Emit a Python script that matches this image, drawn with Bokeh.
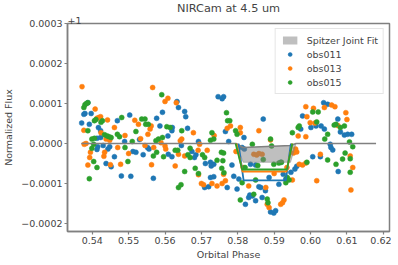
from bokeh.plotting import figure
from bokeh.models import Legend, LegendItem, FixedTicker, Title, Range1d
from bokeh.embed import file_html
from bokeh.resources import INLINE

# ---- data: (orbital phase, normalized flux - 1 in ppm) ----
obs011_points = [
    (0.5371, 51), (0.5377, 73), (0.5380, 75), (0.5388, 102), (0.5392, 48), (0.5397, 75),
    (0.5413, 13), (0.5413, -15), (0.5415, -8), (0.5417, 40), (0.5423, 32), (0.5423, 15),
    (0.5430, -5), (0.5438, -50), (0.5443, -14), (0.5448, -8), (0.5452, -58), (0.5461, -33),
    (0.5469, 57), (0.5480, -81), (0.5489, 5), (0.5503, 71), (0.5506, -82), (0.5512, -20),
    (0.5520, -22), (0.5530, 10), (0.5540, -28), (0.5552, -10), (0.5556, -14), (0.5568, -87),
    (0.5577, 63), (0.5586, 44), (0.5593, 78), (0.5608, 19), (0.5609, -27), (0.5619, 32),
    (0.5620, 40), (0.5619, -33), (0.5633, 105), (0.5637, 90), (0.5645, -5), (0.5654, 80),
    (0.5657, 67), (0.5662, 38), (0.5674, -20), (0.5681, -35), (0.5685, -28), (0.5692, 5),
    (0.5709, -110), (0.5711, -50), (0.5720, -108), (0.5725, -47), (0.5725, -85), (0.5727, -56),
    (0.5734, -52), (0.5734, -83), (0.5746, 117), (0.5757, 112), (0.5761, 117), (0.5766, 30),
    (0.5771, -110), (0.5775, 5), (0.5784, -54), (0.5789, -82), (0.5798, -114), (0.5803, -89),
    (0.5812, -10), (0.5817, 15), (0.5818, -14), (0.5821, -152), (0.5830, -135), (0.5833, -129),
    (0.5835, -52), (0.5840, -131), (0.5849, -54), (0.5849, -143), (0.5858, -108), (0.5863, -110),
    (0.5867, -135), (0.5870, 61), (0.5876, -118), (0.5886, -85), (0.5890, -171), (0.5899, -174),
    (0.5904, -168), (0.5913, -102), (0.5918, -47), (0.5925, -77), (0.5932, -89), (0.5946, -72),
    (0.5957, -64), (0.5962, -57), (0.5973, 36), (0.5978, 69), (0.6001, 40), (0.6006, -33),
    (0.6015, 44), (0.6027, -33), (0.6029, 44), (0.6036, 102), (0.6038, 36), (0.6047, 98),
    (0.6054, -2), (0.6056, -10), (0.6061, -16), (0.6075, 61), (0.6076, -70), (0.6082, 29),
    (0.6093, 21), (0.6102, 23), (0.6113, 23),
]
obs013_points = [
    (0.5372, 142), (0.5377, 33), (0.5378, -2), (0.5383, 0), (0.5388, -54), (0.5393, -35),
    (0.5395, -22), (0.5408, 86), (0.5413, 63), (0.5418, 65), (0.5423, 67), (0.5424, 27),
    (0.5432, -32), (0.5434, -22), (0.5438, 11), (0.5442, 59), (0.5448, 8), (0.5450, -53),
    (0.5461, 40), (0.5470, -10), (0.5478, -52), (0.5490, 20), (0.5500, -25), (0.5517, 58),
    (0.5527, 48), (0.5533, 12), (0.5545, -5), (0.5553, 23), (0.5559, 36), (0.5562, 44),
    (0.5563, -53), (0.5566, 140), (0.5569, -10), (0.5589, 2), (0.5600, 105), (0.5600, -6),
    (0.5602, -14), (0.5608, 113), (0.5628, -56), (0.5631, 102), (0.5637, -27), (0.5642, 7),
    (0.5646, 11), (0.5654, -31), (0.5678, 27), (0.5691, -17), (0.5692, -78), (0.5695, -2),
    (0.5700, -100), (0.5706, -103), (0.5716, -17), (0.5729, -100), (0.5735, 20), (0.5743, -106),
    (0.5757, -100), (0.5761, -77), (0.5766, -93), (0.5771, 38), (0.5780, 44), (0.5795, -20),
    (0.5807, 40), (0.5807, 27), (0.5815, -60), (0.5830, -106), (0.5844, -27), (0.5852, -29),
    (0.5858, 32), (0.5858, -25), (0.5867, -27), (0.5877, -110), (0.5881, -152), (0.5886, -160),
    (0.5890, 9), (0.5900, -75), (0.5918, -152), (0.5923, -148), (0.5927, -141), (0.5935, -60),
    (0.5950, -91), (0.5953, -24), (0.5959, -14), (0.5962, -21), (0.5966, 19), (0.5969, -52),
    (0.5978, -54), (0.5987, 92), (0.5987, 17), (0.5987, -49), (0.5990, 67), (0.5999, 52),
    (0.6008, 88), (0.6012, 51), (0.6017, -93), (0.6027, -27), (0.6038, 90), (0.6058, 96),
    (0.6067, 92), (0.6075, 45), (0.6097, 77), (0.6100, 60), (0.6109, -31), (0.6111, -116),
    (0.6116, -60),
]
obs015_points = [
    (0.5377, 90), (0.5380, 97), (0.5384, 100), (0.5388, 102), (0.5388, 32), (0.5392, -88),
    (0.5399, 11), (0.5399, -12), (0.5404, -2), (0.5404, -45), (0.5406, 57), (0.5406, 13),
    (0.5410, 60), (0.5413, -60), (0.5424, 53), (0.5428, 57), (0.5434, 22), (0.5441, 19),
    (0.5446, 17), (0.5452, 15), (0.5469, 23), (0.5475, 17), (0.5481, 65), (0.5490, -10),
    (0.5498, -45), (0.5510, 5), (0.5520, 30), (0.5536, 61), (0.5545, 61), (0.5547, 48),
    (0.5554, 48), (0.5568, -31), (0.5575, 7), (0.5577, -22), (0.5582, 11), (0.5591, 122),
    (0.5593, 15), (0.5596, -33), (0.5605, 42), (0.5614, 40), (0.5628, -17), (0.5635, -17),
    (0.5637, -110), (0.5644, -103), (0.5646, 32), (0.5654, -70), (0.5663, -28), (0.5669, -12),
    (0.5669, -35), (0.5683, -62), (0.5692, -75), (0.5703, -28), (0.5709, -35), (0.5725, 8),
    (0.5729, 27), (0.5734, 11), (0.5743, -42), (0.5755, -22), (0.5756, -62), (0.5759, -43),
    (0.5761, -24), (0.5762, -73), (0.5769, 77), (0.5772, 57), (0.5778, 57), (0.5794, 32),
    (0.5798, 23), (0.5807, -141), (0.5812, -98), (0.5820, -60), (0.5840, -2), (0.5844, -127),
    (0.5849, -91), (0.5855, -55), (0.5870, -40), (0.5881, -139), (0.5883, -148), (0.5890, 11),
    (0.5893, -6), (0.5899, -52), (0.5913, -49), (0.5920, -47), (0.5932, -98), (0.5936, -85),
    (0.5941, -91), (0.5950, 27), (0.5966, 40), (0.5969, 44), (0.5990, -47), (0.6006, 79),
    (0.6017, 54), (0.6021, 79), (0.6039, 11), (0.6047, 23), (0.6047, -41), (0.6065, 46),
    (0.6070, 48), (0.6070, -52), (0.6082, 40), (0.6088, -39), (0.6093, 44), (0.6095, -24),
    (0.6107, 4), (0.6109, -38), (0.6109, -72), (0.6116, -8),
]

series_names = ["obs011", "obs013", "obs015"]
series_points = [obs011_points, obs013_points, obs015_points]
series_colors = ["#1f77b4", "#ff7f0e", "#2ca02c"]

# Transit models per observation (phase, depth ppm)
model_phase = {
    "obs011": [0.5802, 0.5816, 0.5932, 0.5946],
    "obs013": [0.5796, 0.5813, 0.5934, 0.5950],
    "obs015": [0.5794, 0.5812, 0.5935, 0.5950],
}
model_depth = {
    "obs011": [0, -92, -92, 0],
    "obs013": [0, -70, -70, 0],
    "obs015": [0, -65, -65, 0],
}

# Spitzer joint fit band
spitzer_phase = [0.5370, 0.5795, 0.5815, 0.5945, 0.5960, 0.6180]
spitzer_upper = [0, 0, -10, -5, 0, 0]
spitzer_lower = [0, 0, -47, -47, 0, 0]

x_ticks = [0.54, 0.55, 0.56, 0.57, 0.58, 0.59, 0.60, 0.61, 0.62]
x_tick_labels = ["0.54", "0.55", "0.56", "0.57", "0.58", "0.59", "0.60", "0.61", "0.62"]
y_ticks_ppm = [-200, -100, 0, 100, 200, 300]
y_tick_labels = ["\u22120.0002", "\u22120.0001", "0.0000", "0.0001", "0.0002", "0.0003"]

PPM = 1e-6
FONT = "DejaVu Sans"
FRAME_W, FRAME_H = 322, 208

p = figure(frame_width=FRAME_W, frame_height=FRAME_H, output_backend="svg", toolbar_location=None,
           x_range=Range1d(0.5332, 0.6217), y_range=Range1d(-0.00022, 0.0003),
           min_border_left=64, min_border_right=2, min_border_top=10, min_border_bottom=26,
           title=None)
offset_title = Title(text="+1", align="left", text_font=FONT, text_font_size="9.5px",
                     text_font_style="normal", standoff=0, offset=0, text_line_height=0.9)
p.add_layout(offset_title, "above")
main_title = Title(text="NIRCam at 4.5 um", align="center", text_font=FONT,
                   text_font_size="11.3px", text_font_style="normal", standoff=-1,
                   text_line_height=0.9)
p.add_layout(main_title, "above")

p.xgrid.visible = False
p.ygrid.visible = False
p.outline_line_color = "gray"
p.outline_line_width = 1.5
p.outline_line_alpha = 1.0

scatter_renderers = []
for name, pts, col in zip(series_names, series_points, series_colors):
    xs = [a for a, b in pts]
    ys = [b * PPM for a, b in pts]
    r = p.scatter(xs, ys, size=5, fill_color=col, line_color=col, line_width=0.5)
    scatter_renderers.append(r)

band = p.varea(x=spitzer_phase, y1=[v * PPM for v in spitzer_lower],
               y2=[v * PPM for v in spitzer_upper], fill_color="gray", fill_alpha=0.5)
p.line(spitzer_phase, [v * PPM for v in spitzer_upper], line_color="gray", line_width=1.5)
p.line(spitzer_phase, [v * PPM for v in spitzer_lower], line_color="gray", line_width=0.8, line_alpha=0.6)

for name, col in zip(series_names, series_colors):
    p.line(model_phase[name], [v * PPM for v in model_depth[name]], line_color=col, line_width=1.8)

items = [LegendItem(label="Spitzer Joint Fit", renderers=[band])]
for name, r in zip(series_names, scatter_renderers):
    items.append(LegendItem(label=name, renderers=[r]))
legend = Legend(items=items, location="top_right", label_text_font=FONT,
                label_text_font_size="9.5px", glyph_width=18, glyph_height=10,
                label_height=12, spacing=2, padding=5, margin=5, label_standoff=8,
                border_line_color="#cccccc", border_line_width=1, background_fill_alpha=0.8)
p.add_layout(legend)

p.xaxis.ticker = FixedTicker(ticks=x_ticks)
p.xaxis.major_label_overrides = dict(zip(x_ticks, x_tick_labels))
y_tick_vals = [v * PPM for v in y_ticks_ppm]
p.yaxis.ticker = FixedTicker(ticks=y_tick_vals)
p.yaxis.major_label_overrides = dict(zip(y_tick_vals, y_tick_labels))
p.xaxis.axis_label = "Orbital Phase"
p.yaxis.axis_label = "Normalized Flux"

for ax in (p.xaxis[0], p.yaxis[0]):
    ax.axis_line_color = "gray"
    ax.axis_line_width = 1.5
    ax.major_tick_line_color = "gray"
    ax.major_tick_line_width = 1.2
    ax.major_tick_out = 3
    ax.major_tick_in = 0
    ax.minor_tick_out = 0
    ax.minor_tick_in = 0
    ax.major_label_text_font = FONT
    ax.major_label_text_font_size = "9.5px"
    ax.major_label_standoff = 2
    ax.axis_label_text_font = FONT
    ax.axis_label_text_font_size = "9.5px"
    ax.axis_label_text_font_style = "normal"
    ax.axis_label_standoff = 2
p.yaxis[0].axis_label_standoff = 4

open("out.html", "w").write(file_html(p, INLINE))
